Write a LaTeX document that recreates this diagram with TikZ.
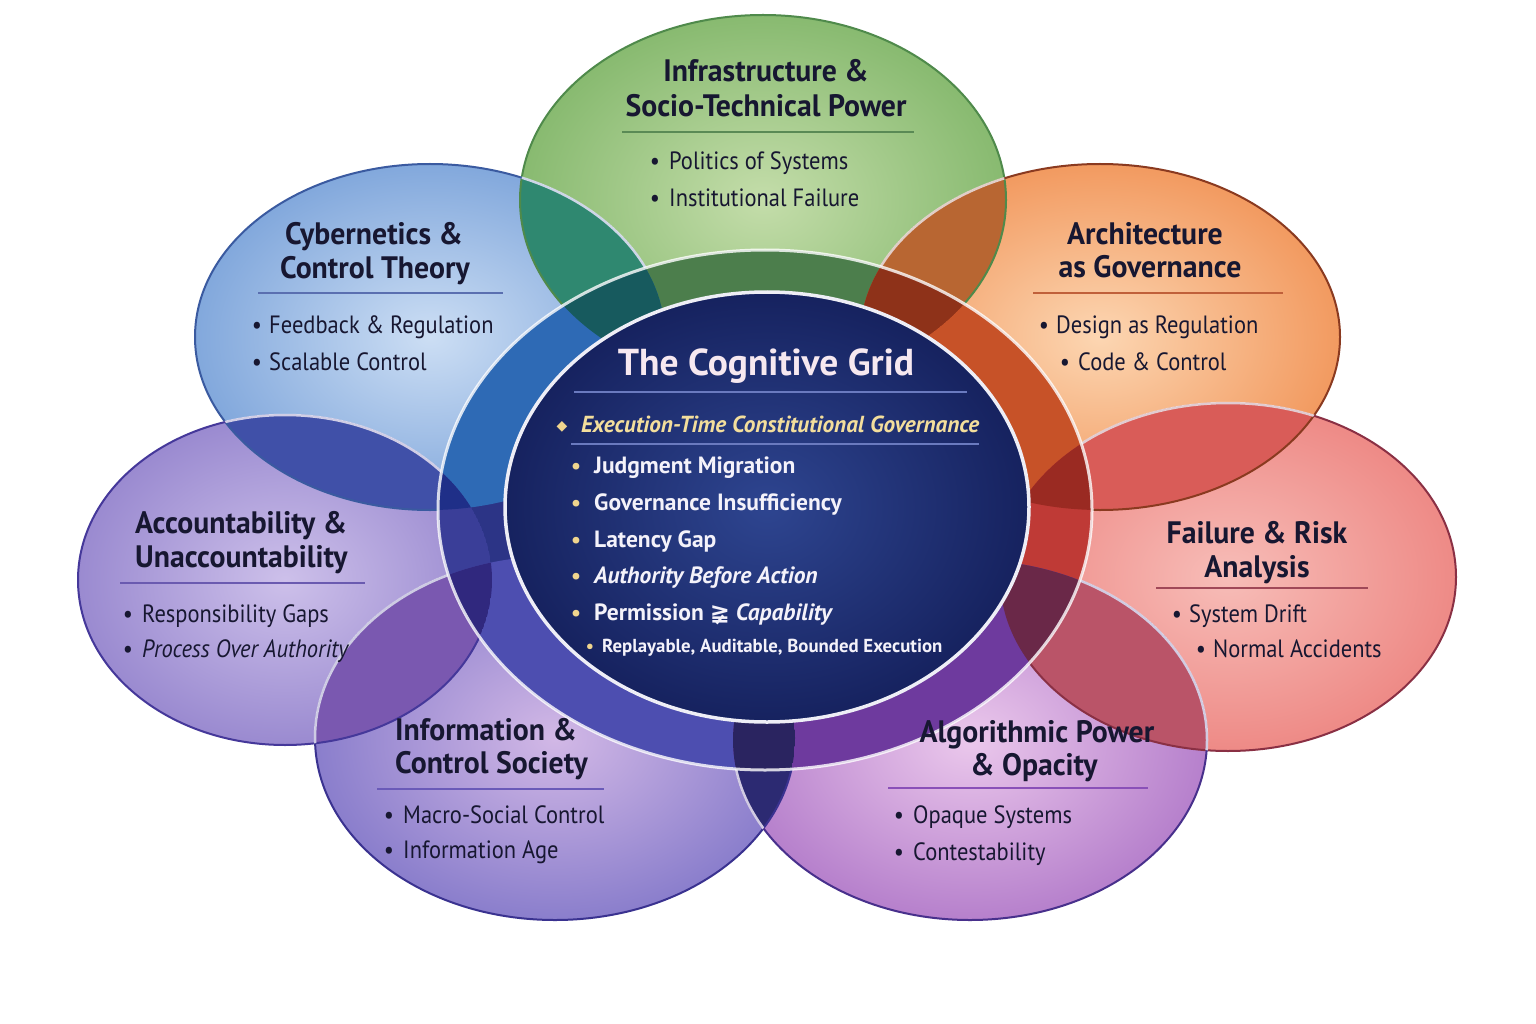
\documentclass[tikz,border=0pt]{standalone}
\usepackage{fontspec}
\setmainfont{PT Sans}
\newfontfamily\itmf{PT Sans}[FakeStretch=0.9]
\newfontfamily\ttlf{PT Sans}[FakeStretch=0.96]
\newfontfamily\symf{DejaVu Sans}
\newcommand\dc[2]{\definecolor{#1}{HTML}{#2}}
\dc{txtc}{171731}\dc{gold}{F3DE9C}\dc{bul}{F0D58E}\dc{coretxt}{F4F2FA}\dc{titlec}{F6E8F0}
\dc{gIn}{C4DDAA}\dc{gOut}{88BA70}\dc{cIn}{CCDEF4}\dc{cOut}{82A8DC}
\dc{oIn}{FCD6B2}\dc{oOut}{F29A60}\dc{aIn}{CDC0EA}\dc{aOut}{9A8AD0}
\dc{rIn}{F7BDB8}\dc{rOut}{EE8A86}\dc{iIn}{D2B8E6}\dc{iOut}{8A7ECC}
\dc{lIn}{EBC8EC}\dc{lOut}{B680CC}
\dc{pGC}{2F8870}\dc{pGO}{B86632}\dc{pCA}{4050A8}\dc{pOR}{D95C58}\dc{pAI}{7A58B0}\dc{pRL}{BA5468}\dc{pIL}{2C2A72}
\dc{bG}{4F8A4B}\dc{bC}{3A5AA0}\dc{bO}{8A3A20}\dc{bA}{45389A}\dc{bR}{8A3044}\dc{bI}{3A3290}\dc{bL}{48308C}
\dc{ringBase}{2C3486}
\dc{qG}{4C7E4C}\dc{qC}{2E6AB5}\dc{qO}{C75228}\dc{qA}{3A3E98}\dc{qR}{BF3A36}\dc{qI}{4D4EB0}\dc{qL}{6E3A9E}
\dc{sGC}{175A5E}\dc{sGO}{8E3219}\dc{sCA}{1F2F88}\dc{sOR}{9A2A22}\dc{sAI}{30287E}\dc{sRL}{6A2848}\dc{sIL}{2A2460}
\dc{coreIn}{2E4590}\dc{coreOut}{16225F}\dc{coreEdge}{EEEEF6}
\dc{rlG}{5A8A55}\dc{rlC}{5A6FB0}\dc{rlO}{C0603A}\dc{rlA}{6A5AB0}\dc{rlR}{A04858}\dc{rlI}{6A5AB8}\dc{rlL}{8A50B8}\dc{rlCore}{6A7ABF}
\def\EG{(763,200) ellipse [x radius=243, y radius=185]}
\def\EC{(430,337) ellipse [x radius=235, y radius=173]}
\def\EO{(1100,337) ellipse [x radius=240, y radius=173]}
\def\EA{(285,580) ellipse [x radius=207, y radius=165]}
\def\ER{(1228,577) ellipse [x radius=228, y radius=174]}
\def\EI{(555,738) ellipse [x radius=240, y radius=182]}
\def\EL{(970,740) ellipse [x radius=237, y radius=180]}
\def\ERing{(765,510) ellipse [x radius=327, y radius=260]}
\def\ECore{(767,507) ellipse [x radius=262, y radius=215]}
\newcommand\olap[3]{\begin{scope}\clip #1;\clip #2;\fill[#3] #1;\end{scope}}
\newcommand\olapr[3]{\begin{scope}\clip \ERing;\clip #1;\clip #2;\fill[#3] #1;\end{scope}}
\newcommand\inring[2]{\begin{scope}\clip \ERing;\clip #1;\fill[#2] #1;\end{scope}}
\newcommand\whitearc[2]{\begin{scope}\clip #1;\draw[edgew] #2;\end{scope}}
\begin{document}
\begin{tikzpicture}[x=1pt,y=-1pt,
  edgew/.style={draw=white, line width=2.5pt, opacity=0.75},
  ttl/.style={font=\ttlf\fontsize{31}{34}\selectfont\bfseries, text=txtc, inner sep=0, anchor=base},
  ttlw/.style={ttl, anchor=base west},
  itm/.style={font=\itmf\fontsize{25}{28}\selectfont, text=txtc, inner sep=0, anchor=base west},
  dot/.style={font=\itmf\fontsize{25}{28}\selectfont, text=txtc, inner sep=0, anchor=base},
  rulel/.style={line width=1.2pt},
  citm/.style={font=\fontsize{23.5}{26}\selectfont\bfseries, text=coretxt, inner sep=0, anchor=base west},
  cdot/.style={font=\fontsize{22}{26}\selectfont\bfseries, text=bul, inner sep=0, anchor=base},
]
\useasboundingbox (0,0) rectangle (1536,1024);
\fill[white] (0,0) rectangle (1536,1024);
% outer ellipses
\shade[inner color=gIn, outer color=gOut] \EG;
\shade[inner color=cIn, outer color=cOut] \EC;
\shade[inner color=oIn, outer color=oOut] \EO;
\shade[inner color=aIn, outer color=aOut] \EA;
\shade[inner color=rIn, outer color=rOut] \ER;
\shade[inner color=iIn, outer color=iOut] \EI;
\shade[inner color=lIn, outer color=lOut] \EL;
% pair overlaps
\olap{\EG}{\EC}{pGC}
\olap{\EG}{\EO}{pGO}
\olap{\EC}{\EA}{pCA}
\olap{\EO}{\ER}{pOR}
\olap{\EA}{\EI}{pAI}
\olap{\ER}{\EL}{pRL}
\olap{\EI}{\EL}{pIL}
% borders
\draw[bG, line width=2pt] \EG;
\draw[bC, line width=2pt] \EC;
\draw[bO, line width=2pt] \EO;
\draw[bA, line width=2pt] \EA;
\draw[bR, line width=2pt] \ER;
\draw[bI, line width=2pt] \EI;
\draw[bL, line width=2pt] \EL;
\whitearc{\EG}{\EC}
\whitearc{\EG}{\EO}
\whitearc{\EC}{\EA}
\whitearc{\EO}{\ER}
\whitearc{\EA}{\EI}
\whitearc{\ER}{\EL}
\whitearc{\EI}{\EL}
% ring
\fill[ringBase] \ERing;
\inring{\EG}{qG}
\inring{\EC}{qC}
\inring{\EO}{qO}
\inring{\EA}{qA}
\inring{\ER}{qR}
\inring{\EI}{qI}
\inring{\EL}{qL}
\olapr{\EG}{\EC}{sGC}
\olapr{\EG}{\EO}{sGO}
\olapr{\EC}{\EA}{sCA}
\olapr{\EO}{\ER}{sOR}
\olapr{\EA}{\EI}{sAI}
\olapr{\ER}{\EL}{sRL}
\olapr{\EI}{\EL}{sIL}
\draw[white, line width=3pt, opacity=0.8] \ERing;
% core
\shade[inner color=coreIn, outer color=coreOut] \ECore;
\draw[coreEdge, line width=3.5pt] \ECore;

% ---- green
\node[ttl] (g1) at (766,82) {Infrastructure \&};
\node[ttl] (g2) at (766,117) {Socio-Technical Power};
\coordinate (gr1) at (622,132); \coordinate (gr2) at (914,132);
\draw[rulel, rlG] (gr1) -- (gr2);
\node[dot] (gd1) at (655,170) {•}; \node[itm] (gi1) at (669,170) {Politics of Systems};
\node[dot] (gd2) at (655,207) {•}; \node[itm] (gi2) at (669,207) {Institutional Failure};
% ---- cyber
\node[ttl] (c1) at (374,245) {Cybernetics \&};
\node[ttl] (c2) at (375,279) {Control Theory};
\coordinate (cr1) at (258,293); \coordinate (cr2) at (503,293);
\draw[rulel, rlC] (cr1) -- (cr2);
\node[dot] (cd1) at (257,333) {•}; \node[itm] (ci1) at (269,333) {Feedback \& Regulation};
\node[dot] (cd2) at (257,370) {•}; \node[itm] (ci2) at (269,370) {Scalable Control};
% ---- orange
\node[ttl] (o1) at (1145,245) {Architecture};
\node[ttl] (o2) at (1150,278) {as Governance};
\coordinate (or1) at (1033,293); \coordinate (or2) at (1283,293);
\draw[rulel, rlO] (or1) -- (or2);
\node[dot] (od1) at (1044,333) {•}; \node[itm] (oi1) at (1056,333) {Design as Regulation};
\node[dot] (od2) at (1065,370) {•}; \node[itm] (oi2) at (1078,370) {Code \& Control};
% ---- accountability
\node[ttlw] (a1) at (135,533) {Accountability \&};
\node[ttlw] (a2) at (135,567) {Unaccountability};
\coordinate (ar1) at (120,583); \coordinate (ar2) at (365,583);
\draw[rulel, rlA] (ar1) -- (ar2);
\node[dot] (ad1) at (128,622) {•}; \node[itm] (ai1) at (142,622) {Responsibility Gaps};
\node[dot] (ad2) at (128,657) {•}; \node[itm] (ai2) at (142,657) {\itshape Process Over Authority};
% ---- failure
\node[ttl] (f1) at (1257,543) {Failure \& Risk};
\node[ttl] (f2) at (1257,577) {Analysis};
\coordinate (fr1) at (1156,588); \coordinate (fr2) at (1368,588);
\draw[rulel, rlR] (fr1) -- (fr2);
\node[dot] (fd1) at (1177,622) {•}; \node[itm] (fi1) at (1189,622) {System Drift};
\node[dot] (fd2) at (1201,657) {•}; \node[itm] (fi2) at (1213,657) {Normal Accidents};
% ---- information
\node[ttlw] (i1) at (395,740) {Information \&};
\node[ttlw] (i2) at (395,773) {Control Society};
\coordinate (ir1) at (377,789); \coordinate (ir2) at (604,789);
\draw[rulel, rlI] (ir1) -- (ir2);
\node[dot] (id1) at (389,823) {•}; \node[itm] (ii1) at (403,823) {Macro-Social Control};
\node[dot] (id2) at (389,858) {•}; \node[itm] (ii2) at (403,858) {Information Age};
% ---- algorithmic
\node[ttl] (l1) at (1037,742) {Algorithmic Power};
\node[ttl] (l2) at (1034,775) {\& Opacity};
\coordinate (lr1) at (888,788); \coordinate (lr2) at (1148,788);
\draw[rulel, rlL] (lr1) -- (lr2);
\node[dot] (ld1) at (899,823) {•}; \node[itm] (li1) at (913,823) {Opaque Systems};
\node[dot] (ld2) at (899,860) {•}; \node[itm] (li2) at (913,860) {Contestability};
% ---- core
\node[font=\fontsize{37.5}{42}\selectfont\bfseries, text=titlec, inner sep=0, anchor=base] (t) at (766,375) {The Cognitive Grid};
\coordinate (tr1) at (574,392); \coordinate (tr2) at (967,392);
\draw[line width=1.2pt, rlCore] (tr1) -- (tr2);
\node[font=\symf\fontsize{14}{16}\selectfont, text=bul, inner sep=0, anchor=base] (dm) at (562,430) {◆};
\node[font=\fontsize{23.2}{28}\selectfont\bfseries\itshape, text=gold, inner sep=0, anchor=base west] (ex) at (581,432) {Execution-Time Constitutional Governance};
\coordinate (tr3) at (571,444); \coordinate (tr4) at (979,444);
\draw[line width=1.2pt, rlCore] (tr3) -- (tr4);
\node[cdot] (k1) at (576,473) {•}; \node[citm] (j1) at (594,473) {Judgment Migration};
\node[cdot] (k2) at (576,510) {•}; \node[citm] (j2) at (594,510) {Governance Insufficiency};
\node[cdot] (k3) at (576,547) {•}; \node[citm] (j3) at (594,547) {Latency Gap};
\node[cdot] (k4) at (576,583) {•}; \node[citm] (j4) at (594,583) {\itshape Authority Before Action};
\node[cdot] (k5) at (576,620) {•}; \node[citm] (j5) at (594,620) {Permission {\symf\fontsize{24}{26}\selectfont ≩} \itshape Capability};
\node[cdot, font=\fontsize{18}{20}\selectfont\bfseries] (k6) at (590,652) {•};
\node[citm, font=\fontsize{18.8}{22}\selectfont\bfseries] (j6) at (602,652) {Replayable, Auditable, Bounded Execution};
\end{tikzpicture}
\end{document}
